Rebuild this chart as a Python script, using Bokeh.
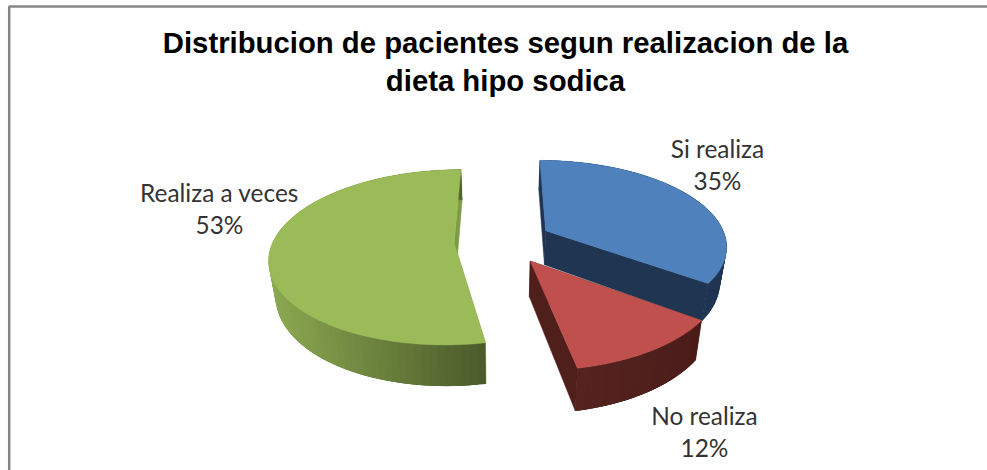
import numpy as np
from bokeh.plotting import figure
from bokeh.models import Range1d
from bokeh.core.properties import value
from bokeh.embed import file_html
from bokeh.resources import INLINE

# ---- data ----
categories = ["Si realiza", "No realiza", "Realiza a veces"]
percent = [35, 12, 53]
title_lines = ["Distribucion de pacientes segun realizacion de la", "dieta hipo sodica"]
top_colors = ["#4F81BD", "#C0504D", "#9BBB59"]
cut_colors = ["#1F3552", "#4F1F1C", "#7D9A45"]
rim_from = ["#1F3552", "#552421", "#8CA950"]
rim_to = ["#1F3552", "#4B1D1A", "#4A5A2A"]

# ---- 3-D pie projection ----
START = 0.0
EXPLODE = 0.27
CX, CY, R, TILT, PERSP, DEPTH, SHRINK = 502.5, 240.5, 181.0, 0.468, 0.16, 34.5, 0.03


def project(X, Y, Z):
    s = 1.0 / (1.0 + PERSP * Y)
    x = CX + R * X * s * (1 - SHRINK * Z)
    y = CY - R * TILT * Y * s + DEPTH * s * Z
    return x, y


def hexlerp(a, b, f):
    ca = [int(a[i:i + 2], 16) for i in (1, 3, 5)]
    cb = [int(b[i:i + 2], 16) for i in (1, 3, 5)]
    return "#%02x%02x%02x" % tuple(int(round(u + (v - u) * f)) for u, v in zip(ca, cb))


p = figure(width=987, height=470, output_backend="svg", toolbar_location=None,
           x_range=Range1d(0, 987), y_range=Range1d(470, 0), min_border=0,
           outline_line_color=None, background_fill_color="white")
p.axis.visible = False
p.grid.visible = False

# chart frame (only top and left edges show)
p.line([8.7, 8.7, 987], [470, 6, 6], line_color="#868686", line_width=2.5)

# slice geometry
edges = np.cumsum([0] + percent) * 3.6 + START
slices = []
for i in range(len(percent)):
    a0, a1 = np.radians(edges[i]), np.radians(edges[i + 1])
    mid = (a0 + a1) / 2
    ox, oy = EXPLODE * np.sin(mid), EXPLODE * np.cos(mid)
    th = np.linspace(a0, a1, 90)
    slices.append((ox, oy, th))

# draw back to front: green, blue, red
for i in [2, 0, 1]:
    ox, oy, th = slices[i]
    rx, ry = ox + np.sin(th), oy + np.cos(th)
    # cut faces
    for j in (0, -1):
        xs, ys = [], []
        for (X, Y, Z) in [(ox, oy, 0), (rx[j], ry[j], 0), (rx[j], ry[j], 1), (ox, oy, 1)]:
            u, v = project(X, Y, Z)
            xs.append(u)
            ys.append(v)
        p.patch(xs, ys, fill_color=cut_colors[i], line_color=cut_colors[i], line_width=0.5)
    # rim with side shading; each strip overlaps the next so no seams show
    tx, ty = project(rx, ry, 0)
    bx, by = project(rx, ry, 1)
    lo, hi = tx.min(), tx.max()
    sx, sy, sc = [], [], []
    n = len(th)
    for k in range(n - 1):
        m = min(k + 3, n - 1)
        sx.append([tx[k], tx[m], bx[m], bx[k]])
        sy.append([ty[k], ty[m], by[m], by[k]])
        sc.append(hexlerp(rim_from[i], rim_to[i], ((tx[k] + tx[k + 1]) / 2 - lo) / (hi - lo)))
    p.patches(sx, sy, fill_color=sc, line_color=None)
    # top face
    ax, ay = project(ox, oy, 0)
    p.patch(np.r_[ax, tx], np.r_[ay, ty], fill_color=top_colors[i], line_color=top_colors[i], line_width=0.5)

# titles
for line, yy in zip(title_lines, [42, 80]):
    p.text([505], [yy], text=[line], text_font=value("Liberation Sans"), text_font_style="bold",
           text_font_size="29.3px", text_align="center", text_baseline="middle", text_color="#000000")

# labels
label_x = [717, 704, 219]
label_y = [148, 415, 192]
for name, pct, lx, ly in zip(categories, percent, label_x, label_y):
    for txt, dy in ((name, 0), (f"{pct}%", 32)):
        p.text([lx], [ly + dy], text=[txt], text_font=value("Lato"), text_font_size="24.4px",
               text_align="center", text_baseline="middle", text_color="#333333")

open("out.html", "w").write(file_html(p, INLINE))
